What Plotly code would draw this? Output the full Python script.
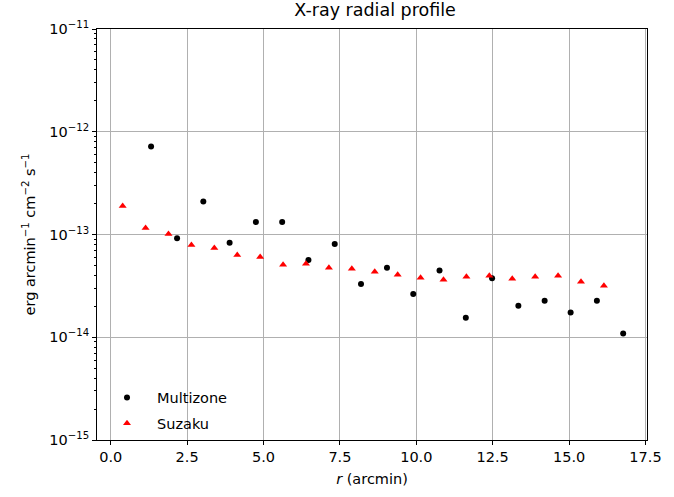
import plotly.graph_objects as go

multizone_r = [1.32, 2.17, 3.03, 3.89, 4.75, 5.61, 6.47, 7.33, 8.19, 9.04,
               9.90, 10.76, 11.62, 12.48, 13.34, 14.20, 15.05, 15.91, 16.77]
multizone_f = [7.2e-13, 9.2e-14, 2.1e-13, 8.3e-14, 1.32e-13, 1.32e-13, 5.66e-14, 8.1e-14,
               3.3e-14, 4.74e-14, 2.63e-14, 4.47e-14, 1.55e-14, 3.75e-14, 2.03e-14,
               2.27e-14, 1.74e-14, 2.27e-14, 1.09e-14]

suzaku_r = [0.39, 1.14, 1.89, 2.64, 3.39, 4.14, 4.89, 5.64, 6.39, 7.14, 7.89,
            8.64, 9.39, 10.14, 10.89, 11.64, 12.39, 13.14, 13.89, 14.64, 15.39, 16.14]
suzaku_f = [1.89e-13, 1.16e-13, 1.01e-13, 7.9e-14, 7.4e-14, 6.3e-14, 6.05e-14, 5.07e-14,
            5.18e-14, 4.74e-14, 4.63e-14, 4.33e-14, 4.05e-14, 3.79e-14, 3.62e-14,
            3.88e-14, 3.96e-14, 3.71e-14, 3.88e-14, 3.96e-14, 3.47e-14, 3.17e-14]

x_ticks = [0.0, 2.5, 5.0, 7.5, 10.0, 12.5, 15.0, 17.5]
y_ticks = [1e-15, 1e-14, 1e-13, 1e-12, 1e-11]
y_tick_labels = ["10<sup>\u221215</sup>", "10<sup>\u221214</sup>", "10<sup>\u221213</sup>",
                 "10<sup>\u221212</sup>", "10<sup>\u221211</sup>"]
y_minor_ticks = [m * d for d in [1e-15, 1e-14, 1e-13, 1e-12] for m in range(2, 10)]

fig = go.Figure()
fig.add_trace(go.Scatter(x=multizone_r, y=multizone_f, mode="markers", name="Multizone",
                         legendgroup="a",
                         marker=dict(symbol="circle", size=6, color="black")))
fig.add_trace(go.Scatter(x=suzaku_r, y=suzaku_f, mode="markers", name="Suzaku",
                         legendgroup="b",
                         marker=dict(symbol="triangle-up", size=7, color="red")))

font = "DejaVu Sans"
fs = 14.5
fig.update_layout(
    width=674, height=497,
    margin=dict(l=97, r=21, t=29, b=53),
    paper_bgcolor="white", plot_bgcolor="white",
    font=dict(family=font, size=fs, color="black"),
    title=dict(text="X-ray radial profile", x=0.5565, xanchor="center",
               y=0.993, yanchor="top", font=dict(size=17.5)),
    showlegend=True,
    legend=dict(x=0.0, y=0.001, xanchor="left", yanchor="bottom",
                bgcolor="rgba(0,0,0,0)", borderwidth=0, font=dict(size=fs),
                itemwidth=50, tracegroupgap=4),
)
fig.update_xaxes(
    range=[-0.45, 17.55], tickvals=x_ticks, ticktext=[f"{v:.1f}" for v in x_ticks],
    showgrid=True, gridcolor="#b0b0b0", gridwidth=1, zeroline=False,
    showline=True, linecolor="black", linewidth=1, mirror=True,
    ticks="outside", ticklen=4, tickcolor="black",
    title=dict(text="<i>r</i> (arcmin)", font=dict(size=fs), standoff=9),
)
fig.update_yaxes(
    type="log", range=[-15, -11], tickvals=y_ticks, ticktext=y_tick_labels,
    showgrid=True, gridcolor="#b0b0b0", gridwidth=1, zeroline=False,
    showline=True, linecolor="black", linewidth=1, mirror=True,
    ticks="outside", ticklen=4, tickcolor="black",
    minor=dict(tickmode="array", tickvals=y_minor_ticks, ticks="outside", ticklen=2,
               tickcolor="black", showgrid=False),
    title=dict(text="erg arcmin<sup>\u22121</sup> cm<sup>\u22122</sup> s<sup>\u22121</sup>",
               font=dict(size=fs), standoff=10),
)
fig.write_html("out.html")
